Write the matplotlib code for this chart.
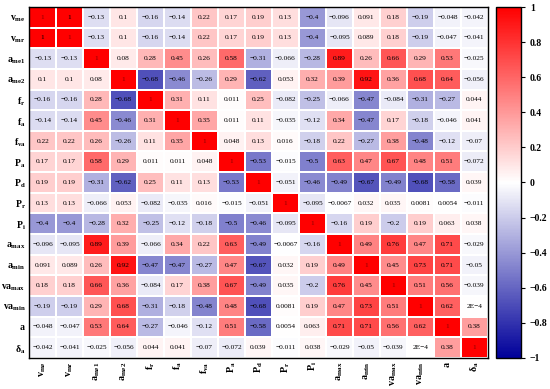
import numpy as np
import matplotlib
matplotlib.use("Agg")
import matplotlib.pyplot as plt
from matplotlib.colors import LinearSegmentedColormap

plt.rcParams['font.family'] = ['Liberation Serif', 'DejaVu Serif']
plt.rcParams['mathtext.fontset'] = 'custom'
plt.rcParams['mathtext.rm'] = 'Liberation Serif:bold'
plt.rcParams['mathtext.it'] = 'Liberation Serif:bold'
plt.rcParams['mathtext.bf'] = 'Liberation Serif:bold'

labels = [r'$\mathrm{v_{me}}$', r'$\mathrm{v_{mr}}$', r'$\mathrm{a_{me1}}$', r'$\mathrm{a_{me2}}$',
          r'$\mathrm{f_{r}}$', r'$\mathrm{f_{a}}$', r'$\mathrm{f_{va}}$', r'$\mathrm{P_{a}}$',
          r'$\mathrm{P_{d}}$', r'$\mathrm{P_{r}}$', r'$\mathrm{P_{i}}$', r'$\mathrm{a_{max}}$',
          r'$\mathrm{a_{min}}$', r'$\mathrm{va_{max}}$', r'$\mathrm{va_{min}}$', r'$\mathrm{a}$',
          r'$\mathrm{\delta_{a}}$']

corr = np.array([
    [1, 1, -0.13, 0.1, -0.16, -0.14, 0.22, 0.17, 0.19, 0.13, -0.4, -0.096, 0.091, 0.18, -0.19, -0.048, -0.042],
    [1, 1, -0.13, 0.1, -0.16, -0.14, 0.22, 0.17, 0.19, 0.13, -0.4, -0.095, 0.089, 0.18, -0.19, -0.047, -0.041],
    [-0.13, -0.13, 1, 0.08, 0.28, 0.45, 0.26, 0.58, -0.31, -0.066, -0.28, 0.89, 0.26, 0.66, 0.29, 0.53, -0.025],
    [0.1, 0.1, 0.08, 1, -0.68, -0.46, -0.26, 0.29, -0.62, 0.053, 0.32, 0.39, 0.92, 0.36, 0.68, 0.64, -0.056],
    [-0.16, -0.16, 0.28, -0.68, 1, 0.31, 0.11, 0.011, 0.25, -0.082, -0.25, -0.066, -0.47, -0.084, -0.31, -0.27, 0.044],
    [-0.14, -0.14, 0.45, -0.46, 0.31, 1, 0.35, 0.011, 0.11, -0.035, -0.12, 0.34, -0.47, 0.17, -0.18, -0.046, 0.041],
    [0.22, 0.22, 0.26, -0.26, 0.11, 0.35, 1, 0.048, 0.13, 0.016, -0.18, 0.22, -0.27, 0.38, -0.48, -0.12, -0.07],
    [0.17, 0.17, 0.58, 0.29, 0.011, 0.011, 0.048, 1, -0.53, -0.015, -0.5, 0.63, 0.47, 0.67, 0.48, 0.51, -0.072],
    [0.19, 0.19, -0.31, -0.62, 0.25, 0.11, 0.13, -0.53, 1, -0.051, -0.46, -0.49, -0.67, -0.49, -0.68, -0.58, 0.039],
    [0.13, 0.13, -0.066, 0.053, -0.082, -0.035, 0.016, -0.015, -0.051, 1, -0.095, -0.0067, 0.032, 0.035, 0.0081, 0.0054, -0.011],
    [-0.4, -0.4, -0.28, 0.32, -0.25, -0.12, -0.18, -0.5, -0.46, -0.095, 1, -0.16, 0.19, -0.2, 0.19, 0.063, 0.038],
    [-0.096, -0.095, 0.89, 0.39, -0.066, 0.34, 0.22, 0.63, -0.49, -0.0067, -0.16, 1, 0.49, 0.76, 0.47, 0.71, -0.029],
    [0.091, 0.089, 0.26, 0.92, -0.47, -0.47, -0.27, 0.47, -0.67, 0.032, 0.19, 0.49, 1, 0.45, 0.73, 0.71, -0.05],
    [0.18, 0.18, 0.66, 0.36, -0.084, 0.17, 0.38, 0.67, -0.49, 0.035, -0.2, 0.76, 0.45, 1, 0.51, 0.56, -0.039],
    [-0.19, -0.19, 0.29, 0.68, -0.31, -0.18, -0.48, 0.48, -0.68, 0.0081, 0.19, 0.47, 0.73, 0.51, 1, 0.62, 0.0002],
    [-0.048, -0.047, 0.53, 0.64, -0.27, -0.046, -0.12, 0.51, -0.58, 0.0054, 0.063, 0.71, 0.71, 0.56, 0.62, 1, 0.38],
    [-0.042, -0.041, -0.025, -0.056, 0.044, 0.041, -0.07, -0.072, 0.039, -0.011, 0.038, -0.029, -0.05, -0.039, 0.0002, 0.38, 1],
])

cbar_ticks = [-1, -0.8, -0.6, -0.4, -0.2, 0, 0.2, 0.4, 0.6, 0.8, 1]


def fmt(v):
    if v == 1:
        return '1'
    if abs(v) < 0.001:
        return '2E\u22124'
    return ('%g' % v).replace('-', '\u2212')


cmap = LinearSegmentedColormap.from_list(
    'rwb', [(0.0, '#00009a'), (0.5, '#ffffff'), (1.0, '#ff0000')])

fig = plt.figure(figsize=(5.5, 3.89), dpi=100)
ax = fig.add_axes([0.053, 0.080, 0.834, 0.902])
cax = fig.add_axes([0.902, 0.080, 0.045, 0.902])

n = len(labels)
mesh = ax.pcolormesh(np.arange(n + 1), np.arange(n + 1), corr, cmap=cmap,
                     vmin=-1, vmax=1, edgecolors='white', linewidth=0.3)
ax.set_xlim(0, n)
ax.set_ylim(n, 0)
for i in range(n):
    for j in range(n):
        ax.text(j + 0.5, i + 0.5, fmt(corr[i, j]), ha='center', va='center',
                fontsize=5.3, color='#8b0000' if i == j else 'black')

ax.set_xticks(np.arange(n) + 0.5)
ax.set_yticks(np.arange(n) + 0.5)
ax.set_xticklabels(labels, rotation=90, fontsize=7.2)
ax.set_yticklabels(labels, fontsize=7)
ax.tick_params(length=0, pad=2.5)
for s in ax.spines.values():
    s.set_linewidth(1.0)

cb = fig.colorbar(mesh, cax=cax, ticks=cbar_ticks)
cb.ax.set_yticklabels([('%g' % t).replace('-', '\u2212') for t in cbar_ticks],
                      fontsize=7, fontweight='bold')
cb.ax.tick_params(length=3, width=0.8)
cb.outline.set_linewidth(1.0)

fig.savefig('out.png', dpi=100)
